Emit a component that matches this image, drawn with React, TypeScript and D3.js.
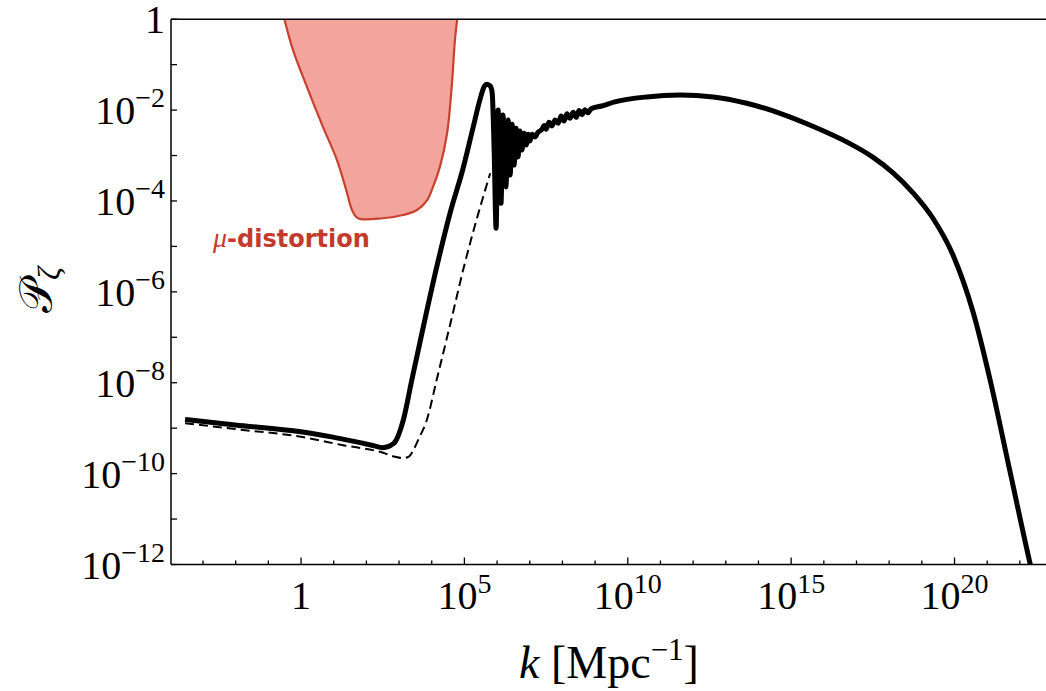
import React from "react";
import * as d3 from "d3";

// ---- Data (log10 values) ----
// Solid curve: full power spectrum
const solidLogK = [
  -3.55, -2.02, 0.0, 1.28, 2.2, 2.5, 2.83, 3.13, 3.39, 3.76, 4.16, 4.56, 4.96, 5.26, 5.48, 5.6, 5.69, 5.79, 5.85, 5.91, 5.97,
  6.03, 6.12, 6.18, 6.27, 6.34, 6.4, 6.46, 6.52, 6.58, 6.64, 6.7, 6.76, 6.83, 6.89, 6.95, 7.01, 7.07, 7.16, 7.25, 7.38,
  7.44, 7.5, 7.59, 7.68, 7.77, 7.87, 7.96, 8.05, 8.14, 8.23, 8.33, 8.42, 8.51, 8.6, 8.69, 8.78, 8.88,
  9.2, 9.6, 10.58, 11.6, 12.62, 13.64, 14.66, 15.68, 16.7, 17.51, 18.12, 18.73, 19.34, 19.96, 20.57, 21.09, 21.7, 22.31, 22.4,
];
const solidLogP = [
  -8.81, -8.93, -9.08, -9.24, -9.38, -9.43, -9.34, -8.82, -7.94, -6.71, -5.43, -4.27, -3.28, -2.4, -1.76, -1.49, -1.43, -1.47, -1.62, -2.88, -4.6,
  -2.0, -4.05, -2.11, -3.69, -2.22, -3.43, -2.31, -3.21, -2.4, -3.03, -2.46, -2.88, -2.51, -2.77, -2.53, -2.68, -2.53, -2.59, -2.49, -2.42,
  -2.34, -2.42, -2.27, -2.35, -2.22, -2.29, -2.13, -2.24, -2.08, -2.18, -2.05, -2.16, -2.01, -2.1, -1.99, -2.06, -1.97,
  -1.91, -1.82, -1.71, -1.67, -1.71, -1.85, -2.07, -2.36, -2.7, -3.04, -3.38, -3.82, -4.38, -5.2, -6.45, -7.94, -9.96, -11.97, -12.25,
];

// Dashed curve
const dashedLogK = [-3.55, -2.02, 0.0, 1.25, 2.51, 2.88, 3.12, 3.31, 3.44, 3.61, 3.85, 4.15, 4.56, 5.02, 5.42, 5.79];
const dashedLogP = [-8.89, -9.02, -9.19, -9.37, -9.54, -9.63, -9.66, -9.62, -9.48, -9.22, -8.82, -7.94, -6.73, -5.35, -4.29, -3.39];

// mu-distortion excluded region boundary
const muLogK = [-0.51, -0.245, 0.18, 0.67, 1.1, 1.41, 1.56, 1.74, 2.51, 3.12, 3.55, 3.86, 4.04, 4.25, 4.47, 4.62, 4.71, 4.78];
const muLogP = [0, -0.68, -1.49, -2.37, -3.1, -3.83, -4.2, -4.38, -4.38, -4.31, -4.2, -3.98, -3.69, -3.25, -2.51, -1.4, -0.46, 0];

// Axis ticks
const xTickExps = d3.range(-3, 23);
const xLabelExps = [0, 5, 10, 15, 20];
const yTickExps = d3.range(0, -13, -1);
const yLabelExps = [0, -2, -4, -6, -8, -10, -12];

const W = 1046;
const H = 691;
const left = 171;
const right = 1046;
const top = 19.2;
const bottom = 564.5;

export default function App() {
  const x = d3.scaleLog().domain([10 ** -3.98, 10 ** 22.8]).range([left, right]);
  const y = d3.scaleLog().domain([1e-12, 1]).range([bottom, top]);

  const toPts = (ks: number[], ps: number[]) => ks.map((k, i) => [10 ** k, 10 ** ps[i]] as [number, number]);

  const solid = toPts(solidLogK, solidLogP);
  const dashed = toPts(dashedLogK, dashedLogP);
  const mu = toPts(muLogK, muLogP);

  const line = d3
    .line<[number, number]>()
    .x((d) => x(d[0]))
    .y((d) => y(d[1]))
    .curve(d3.curveMonotoneX);

  const muLine = d3
    .line<[number, number]>()
    .x((d) => x(d[0]))
    .y((d) => y(d[1]))
    .curve(d3.curveCatmullRom.alpha(0.5));

  const muPath = muLine(mu) || "";
  const red = "#c23b2e";

  const serif = "'Liberation Serif', 'Times New Roman', serif";

  return (
    <svg width={W} height={H} style={{ position: "absolute", left: 0, top: 0, background: "#fff" }}>
      <defs>
        <clipPath id="plotClip">
          <rect x={left} y={top} width={right - left} height={bottom - top} />
        </clipPath>
      </defs>

      <g clipPath="url(#plotClip)">
        <path d={muPath + "Z"} fill="#f3a49c" stroke="none" />
        <path d={muPath} fill="none" stroke="#c8412f" strokeWidth={2.2} />
        <path d={line(dashed) || ""} fill="none" stroke="#000" strokeWidth={2} strokeDasharray="9 5" />
        <path
          d={line(solid) || ""}
          fill="none"
          stroke="#000"
          strokeWidth={5}
          strokeLinejoin="miter"
          strokeMiterlimit={2}
        />
      </g>

      {/* frame */}
      <line x1={left} x2={right} y1={top} y2={top} stroke="#000" strokeWidth={1.5} />
      <line x1={left} x2={left} y1={top} y2={bottom} stroke="#000" strokeWidth={1.5} />
      <line x1={left} x2={right} y1={bottom} y2={bottom} stroke="#000" strokeWidth={1.5} />

      {/* y ticks */}
      {yTickExps.map((e) => (
        <line key={"yt" + e} x1={left} x2={left + 6} y1={y(10 ** e)} y2={y(10 ** e)} stroke="#000" strokeWidth={1.3} />
      ))}
      {yLabelExps.map((e) => (
        <text key={"yl" + e} x={165} y={y(10 ** e) + 14} textAnchor="end" fontFamily={serif} fontSize={40} fill="#000">
          {e === 0 ? (
            "1"
          ) : (
            <>
              <tspan>10</tspan>
              <tspan dy={-17} fontSize={28}>
                {"\u2212" + Math.abs(e)}
              </tspan>
            </>
          )}
        </text>
      ))}

      {/* x ticks */}
      {xTickExps.map((e) => {
        const major = e % 5 === 0;
        return (
          <line
            key={"xt" + e}
            x1={x(10 ** e)}
            x2={x(10 ** e)}
            y1={bottom}
            y2={bottom - (major ? 7 : 4)}
            stroke="#000"
            strokeWidth={1.3}
          />
        );
      })}
      {xLabelExps.map((e) => (
        <text key={"xl" + e} x={x(10 ** e)} y={609} textAnchor="middle" fontFamily={serif} fontSize={40} fill="#000">
          {e === 0 ? (
            "1"
          ) : (
            <>
              <tspan>10</tspan>
              <tspan dy={-16} fontSize={28}>
                {String(e)}
              </tspan>
            </>
          )}
        </text>
      ))}

      {/* axis titles */}
      <text x={609} y={678} textAnchor="middle" fontFamily={serif} fontSize={46} fill="#000">
        <tspan fontStyle="italic">k</tspan>
        <tspan> [Mpc</tspan>
        <tspan dy={-18} fontSize={31}>
          {"\u22121"}
        </tspan>
        <tspan dy={18}>]</tspan>
      </text>
      <text
        transform="translate(52,290) rotate(-90)"
        textAnchor="middle"
        fontFamily={serif}
        fontSize={46}
        fill="#000"
      >
        <tspan>{"\u{1D4AB}"}</tspan>
        <tspan dy={8} fontSize={32} fontStyle="italic">
          {"\u03B6"}
        </tspan>
      </text>

      {/* mu-distortion label */}
      <text x={213} y={246.5} fill={red} fontSize={24}>
        <tspan fontFamily={serif} fontStyle="italic" fontSize={28}>
          {"\u03BC"}
        </tspan>
        <tspan fontFamily="'DejaVu Sans', sans-serif" fontWeight="bold">
          -distortion
        </tspan>
      </text>
    </svg>
  );
}
